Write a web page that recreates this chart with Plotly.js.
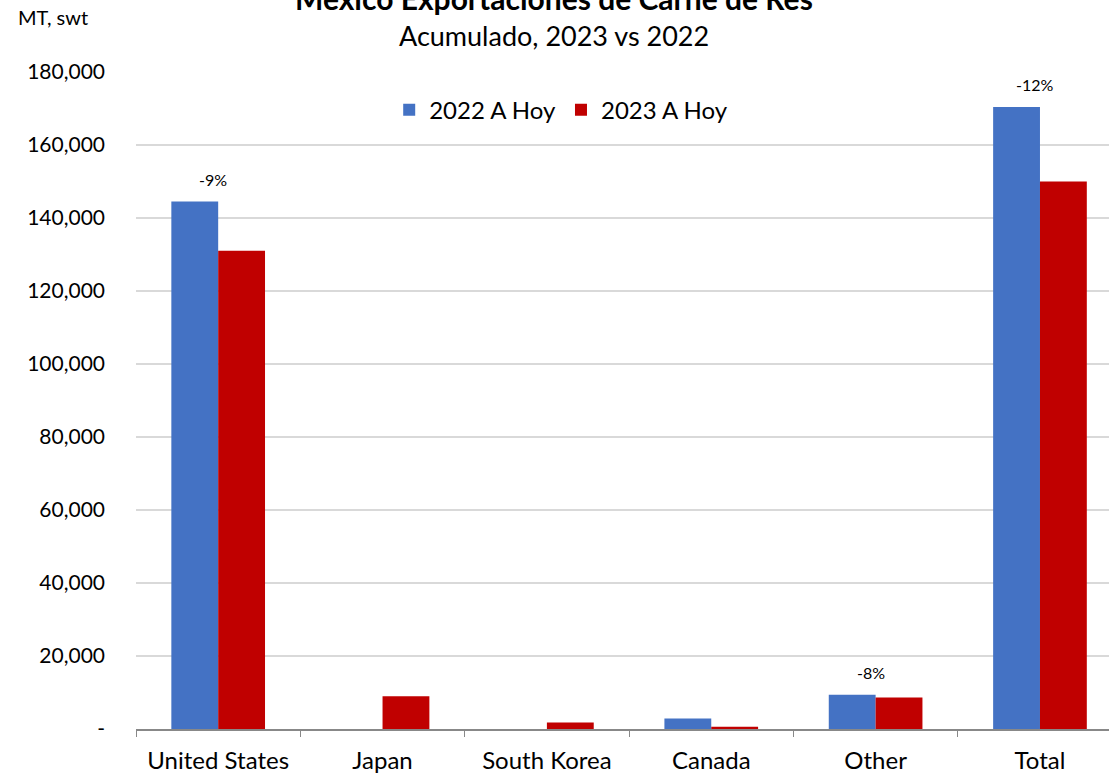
<!DOCTYPE html>
<html>
<head>
<meta charset="utf-8">
<script src="https://cdn.plot.ly/plotly-3.0.1.min.js"></script>
<style>html,body{margin:0;padding:0;background:#fff;}#chart{width:1109px;height:775px;}</style>
</head>
<body>
<div id="chart"></div>
<script>
const categories = ["United States", "Japan", "South Korea", "Canada", "Other", "Total"];
const series2022 = [144500, 0, 0, 2900, 9400, 170400];
const series2023 = [131000, 9000, 1800, 600, 8600, 150000];
const seriesNames = ["2022 A Hoy", "2023 A Hoy"];
const changeLabels = ["-9%", "", "", "", "-8%", "-12%"];
const yTickVals = [0, 20000, 40000, 60000, 80000, 100000, 120000, 140000, 160000, 180000];
const yTickText = ["-", "20,000", "40,000", "60,000", "80,000", "100,000", "120,000", "140,000", "160,000", "180,000"];
const titleText = "<b>México Exportaciones de Carne de Res</b>";
const subtitleText = "Acumulado, 2023 vs 2022";
const unitText = "MT, swt";

const FONT = "Lato, 'Open Sans', sans-serif";

const traces = [
  {type: "bar", name: seriesNames[0], x: categories, y: series2022,
   marker: {color: "#4472C4"}, hoverinfo: "skip"},
  {type: "bar", name: seriesNames[1], x: categories, y: series2023,
   marker: {color: "#C00000"}, hoverinfo: "skip"}
];

const annotations = [];
categories.forEach((c, i) => {
  if (changeLabels[i]) {
    annotations.push({x: c, y: Math.max(series2022[i], series2023[i]), xref: "x", yref: "y",
      text: changeLabels[i], showarrow: false, yanchor: "bottom", yshift: 11, xshift: -5,
      font: {family: FONT, size: 16, color: "#000"}});
  }
});
annotations.push({x: 0.43, y: 1.112, xref: "paper", yref: "paper", text: titleText, showarrow: false,
  xanchor: "center", yanchor: "middle", font: {family: FONT, size: 30, color: "#000"}});
annotations.push({x: 0.43, y: 1.056, xref: "paper", yref: "paper", text: subtitleText, showarrow: false,
  xanchor: "center", yanchor: "middle", font: {family: FONT, size: 27, color: "#000"}});
annotations.push({x: -0.123, y: 1.083, xref: "paper", yref: "paper", text: unitText, showarrow: false,
  xanchor: "left", yanchor: "middle", font: {family: FONT, size: 20, color: "#000"}});

const layout = {
  width: 1109, height: 775,
  margin: {l: 136, r: 0, t: 72, b: 46, pad: 0},
  paper_bgcolor: "#fff", plot_bgcolor: "#fff",
  font: {family: FONT, color: "#000"},
  barmode: "group", bargap: 0.43, bargroupgap: 0,
  showlegend: true,
  legend: {orientation: "h", x: 0.437, xanchor: "center", y: 0.942, yanchor: "middle",
    font: {family: FONT, size: 24, color: "#000"}, bgcolor: "rgba(0,0,0,0)", traceorder: "normal",
    itemwidth: 30},
  xaxis: {type: "category", range: [-0.5, 5.42], showgrid: false, showline: true, linecolor: "#888", linewidth: 1.5,
    ticks: "outside", tickson: "boundaries", ticklen: 6, tickcolor: "#888", ticklabelstandoff: 10,
    tickfont: {family: FONT, size: 24, color: "#000"}, fixedrange: true},
  yaxis: {range: [0, 180000], tickvals: yTickVals, ticktext: yTickText, showgrid: true, gridcolor: "#d9d9d9",
    gridwidth: 1.5, showline: false, zeroline: false, ticks: "", ticklabelstandoff: 30,
    tickfont: {family: FONT, size: 21, color: "#000"}, fixedrange: true},
  annotations: annotations
};

Plotly.newPlot("chart", traces, layout, {displayModeBar: false, staticPlot: true});
</script>
</body>
</html>
